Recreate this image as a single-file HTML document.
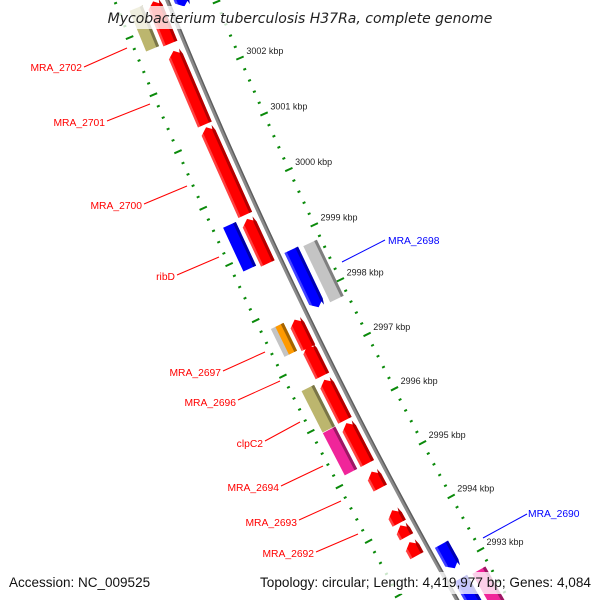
<!DOCTYPE html>
<html><head><meta charset="utf-8"><style>
html,body{margin:0;padding:0;background:#fff;overflow:hidden;width:600px;height:600px;}
svg{display:block;overflow:hidden;font-family:"Liberation Sans",sans-serif;}
</style></head><body>
<svg id="map" width="600" height="600" viewBox="0 0 600 600" xmlns="http://www.w3.org/2000/svg">
<g id="ticks"></g>
<g id="backbone"></g>
<g id="features"></g>
<g id="labels"></g>
<rect x="108" y="6" width="384" height="23" fill="#fff" fill-opacity="0.78"/>
<text x="300" y="23" text-anchor="middle" font-size="14" font-style="italic" fill="#222" style="font-family:'DejaVu Sans',sans-serif">Mycobacterium tuberculosis H37Ra, complete genome</text>
<rect x="0" y="572" width="600" height="22" fill="#fff" fill-opacity="0.78"/>
<text x="9" y="587" font-size="13.5" fill="#111">Accession: NC_009525</text>
<text x="591" y="587" text-anchor="end" font-size="13.6" fill="#111">Topology: circular; Length: 4,419,977 bp; Genes: 4,084</text>
</svg>
<script>
// tick data (kbp)
const majorTicks = [2993,2994,2995,2996,2997,2998,2999,3000,3001,3002];
const tickLabels = ["2993 kbp","2994 kbp","2995 kbp","2996 kbp","2997 kbp","2998 kbp","2999 kbp","3000 kbp","3001 kbp","3002 kbp"];
// forward genes (red arrows) start/end kbp
const fwdStart = [3002.66,3001.23,2999.62,2998.75,2997.23,2996.72,2995.91,2995.12,2994.67,2994.02,2993.77,2993.42];
const fwdEnd   = [3003.40,3002.53,3001.18,2999.55,2997.74,2997.27,2996.65,2995.86,2994.97,2994.26,2993.98,2993.67];
// outer category boxes
const boxStart = [3002.69,2998.80,2997.27,2995.90,2995.12];
const boxEnd   = [3003.40,2999.58,2997.77,2996.65,2995.89];
const boxColor = ["#bcb66e","#0000ff","#c4c4c4","#bcb66e","#f0259a"];
const orangeStart=[2997.27], orangeEnd=[2997.77];
// reverse genes (blue arrows)
const revStart = [3003.13,2997.75,2992.94,2991.80];
const revEnd   = [3004.00,2998.79,2993.39,2992.75];
// inner category boxes
const inStart = [2997.74,2991.80];
const inEnd   = [2998.76,2992.72];
const inColor = ["#c4c4c4","#f0259a"];

const CX=4932, CY=-1933, RB=5142;
const ang = k => (150.85 + 0.684*(k-2993))*Math.PI/180;
function P(k,r){const t=ang(k);return [CX+r*Math.cos(t), CY+r*Math.sin(t)];}
const NS="http://www.w3.org/2000/svg";
function mk(tag,parent){const e=document.createElementNS(NS,tag);parent.appendChild(e);return e;}
function pts(list){return list.map(p=>p[0].toFixed(2)+","+p[1].toFixed(2)).join(" ");}
function shade(c,f){const n=parseInt(c.slice(1),16);let r=(n>>16)&255,g=(n>>8)&255,b=n&255;r=Math.round(r*f);g=Math.round(g*f);b=Math.round(b*f);return "rgb("+r+","+g+","+b+")";}

// ticks
const tg=document.getElementById('ticks');
[5097,5191].forEach((R,ri)=>{
  for(let k=2992.0;k<=3003.61;k+=0.2){
    const major=Math.abs(k-Math.round(k))<0.01;
    const h=major?4:1.5;
    const a=P(k,R-h), b=P(k,R+h);
    if(a[1]>600||b[1]>600||a[1]<-5)continue;
    const l=mk('line',tg);
    
    
    l.setAttribute('x1',a[0]);l.setAttribute('y1',a[1]);l.setAttribute('x2',b[0]);l.setAttribute('y2',b[1]);
    l.setAttribute('stroke','#0a8a0a');l.setAttribute('stroke-width','2');
  }
});
majorTicks.forEach((k,i)=>{
  const p=P(k,5089);
  const t=mk('text',tg);
  
  
  t.setAttribute('x',p[0]-1);t.setAttribute('y',p[1]-1);
  t.setAttribute('font-size','9');t.setAttribute('fill','#222');
  t.textContent=tickLabels[i];
});

// backbone
const bg=document.getElementById('backbone');
const bp=[];for(let k=2991.5;k<=3004;k+=0.25)bp.push(P(k,RB));
const bl=mk('polyline',bg);


bl.setAttribute('points',pts(bp));bl.setAttribute('fill','none');bl.setAttribute('stroke','#8a8a8a');bl.setAttribute('stroke-width','4');
const bp2=[];for(let k=2991.5;k<=3004;k+=0.25)bp2.push(P(k,RB-1.3));
const bl2=mk('polyline',bg);


bl2.setAttribute('points',pts(bp2));bl2.setAttribute('fill','none');bl2.setAttribute('stroke','#5e5e5e');bl2.setAttribute('stroke-width','1.4');

const fg=document.getElementById('features');
const HEAD=0.1;
function arrowPts(a,b,r1,r2,fwd){
  const rm=(r1+r2)/2;
  if(fwd){const h=Math.min(HEAD,(b-a)*0.5);return [P(a,r1),P(b-h,r1),P(b,rm),P(b-h,r2),P(a,r2)];}
  const h=Math.min(HEAD,(b-a)*0.5);return [P(b,r1),P(a+h,r1),P(a,rm),P(a+h,r2),P(b,r2)];
}
function drawArrow(a,b,r1,r2,fwd,color,name){
  const g=mk('g',fg);
  
  
  const p=mk('polygon',g);
  p.setAttribute('points',pts(arrowPts(a,b,r1,r2,fwd)));p.setAttribute('fill',color);
  const d=mk('polygon',g);
  d.setAttribute('points',pts(arrowPts(a,b,r1,r1+3,fwd)));d.setAttribute('fill',shade(color,0.7));
  const l=mk('polygon',g);
  l.setAttribute('points',pts(arrowPts(a,b,r2-2.5,r2,fwd)));l.setAttribute('fill','#fff');l.setAttribute('fill-opacity','0.25');
}
function drawBox(a,b,r1,r2,color,name){
  const g=mk('g',fg);
  
  
  const p=mk('polygon',g);
  p.setAttribute('points',pts([P(a,r1),P(b,r1),P(b,r2),P(a,r2)]));p.setAttribute('fill',color);
  const d=mk('polygon',g);
  d.setAttribute('points',pts([P(a,r1),P(b,r1),P(b,r1+3),P(a,r1+3)]));d.setAttribute('fill',shade(color,0.65));
}
fwdStart.forEach((s,i)=>drawArrow(s,fwdEnd[i],5148,5163,true,'#ff0000','forward-gene'));
boxStart.forEach((s,i)=>drawBox(s,boxEnd[i],5167,5181,boxColor[i],'outer-category-box'));
orangeStart.forEach((s,i)=>drawBox(s,orangeEnd[i],5167,5176,'#ff9a00','outer-category-box-orange'));
revStart.forEach((s,i)=>drawArrow(s,revEnd[i],5121,5136,false,'#0000ff','reverse-gene'));
inStart.forEach((s,i)=>drawBox(s,inEnd[i],5101,5116,inColor[i],'inner-category-box'));

// gene labels (layout annotations)
const lg=document.getElementById('labels');
const labels=[
 ["MRA_2702",82,71,"end",84,67,127,48,"#ff0000"],
 ["MRA_2701",105,126,"end",107,121,150,104,"#ff0000"],
 ["MRA_2700",142,209,"end",144,204,187,186,"#ff0000"],
 ["ribD",175,280,"end",177,275,219,257,"#ff0000"],
 ["MRA_2697",221,376,"end",223,371,265,352,"#ff0000"],
 ["MRA_2696",236,406,"end",238,400,280,381,"#ff0000"],
 ["clpC2",263,447,"end",265,441,300,422,"#ff0000"],
 ["MRA_2694",279,491,"end",281,486,323,466,"#ff0000"],
 ["MRA_2693",297,526,"end",299,520,341,501,"#ff0000"],
 ["MRA_2692",314,557,"end",316,552,358,534,"#ff0000"],
 ["MRA_2698",388,244,"start",342,262,385,240,"#0000ff"],
 ["MRA_2690",528,517,"start",483,538,527,514,"#0000ff"]
];
labels.forEach(L=>{
  const ln=mk('line',lg);
  
  
  ln.setAttribute('x1',L[4]);ln.setAttribute('y1',L[5]);ln.setAttribute('x2',L[6]);ln.setAttribute('y2',L[7]);
  ln.setAttribute('stroke',L[8]);ln.setAttribute('stroke-width','1');
  const t=mk('text',lg);
  
  
  t.setAttribute('x',L[1]);t.setAttribute('y',L[2]);t.setAttribute('text-anchor',L[3]);
  t.setAttribute('font-size','10.3');t.setAttribute('fill',L[8]);
  t.textContent=L[0];
});
</script>
</body></html>
